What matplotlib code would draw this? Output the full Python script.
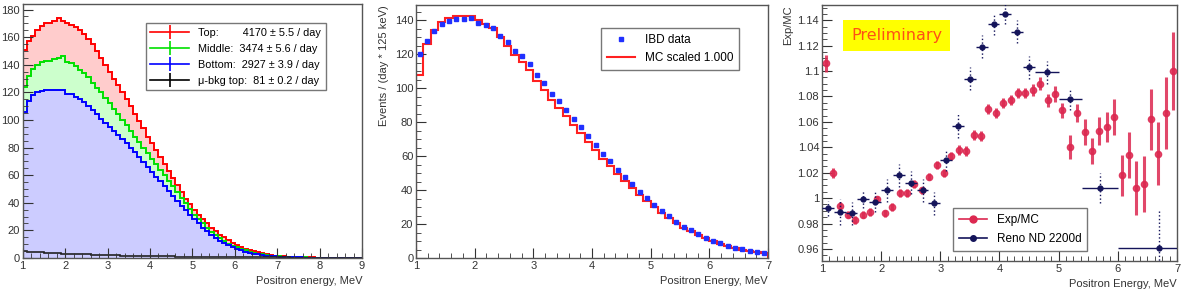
import numpy as np
from matplotlib import pyplot as plt
from matplotlib.lines import Line2D
from matplotlib.ticker import MultipleLocator, FormatStrFormatter

plt.rcParams['font.family'] = ['Liberation Sans', 'DejaVu Sans']

# ---- panel 1: positron spectra by detector position (0.1 MeV bins, 1-9 MeV)
edges1 = np.linspace(1.0, 9.0, 81)
top = [151, 157, 161, 165, 168, 170, 170, 172, 174, 172,
       170, 169, 167, 165, 162, 159, 155, 150, 145, 140,
       135, 130, 125, 120, 115, 110, 104, 99, 94, 88,
       83, 78, 73, 68, 63, 58, 53, 48, 43, 39,
       35, 31, 28, 25, 22, 19.5, 17, 15, 13, 11,
       9.5, 8, 6.8, 5.7, 4.8, 4.0, 3.3, 2.7, 2.2, 1.8,
       1.5, 1.2, 1.0, 0.8, 0.7, 0.6, 0.5, 0.45, 0.4, 0.35,
       0.3, 0.3, 0.25, 0.25, 0.2, 0.2, 0.2, 0.15, 0.15, 0.15]
middle = [124, 132, 137, 140, 142, 143, 143, 144, 145, 146,
          142, 141, 139, 136, 134, 131, 127, 123, 120, 116,
          112, 108, 104, 100, 96, 92, 88, 84, 80, 76,
          72, 68, 64, 60, 56, 52, 48, 43.5, 39.5, 35.5,
          31.5, 28, 25, 22, 19, 16.5, 14.3, 12.3, 10.5, 9,
          7.7, 6.5, 5.5, 4.6, 3.8, 3.2, 2.6, 2.1, 1.7, 1.4,
          1.1, 0.9, 0.75, 0.6, 0.5, 0.45, 0.4, 0.35, 0.3, 0.3,
          0.25, 0.2, 0.2, 0.2, 0.2, 0.15, 0.15, 0.15, 0.1, 0.1]
bottom = [106, 114, 118, 120, 121, 122, 122, 122, 122, 122,
          119, 119, 117, 115, 113, 110, 107, 104, 101, 98,
          95, 92, 89, 86, 83, 80, 76.5, 73, 69.5, 66,
          62.5, 59, 55.5, 52, 48.5, 45, 41.5, 38, 34.5, 31,
          28, 25, 22, 19.5, 17, 14.5, 12.5, 10.7, 9.1, 7.7,
          6.5, 5.5, 4.6, 3.8, 3.2, 2.7, 2.2, 1.8, 1.5, 1.2,
          1.0, 0.8, 0.65, 0.55, 0.45, 0.4, 0.35, 0.3, 0.3, 0.25,
          0.2, 0.2, 0.15, 0.15, 0.15, 0.1, 0.1, 0.1, 0.1, 0.1]
mubkg = [4.8, 4.6, 4.4, 4.2, 4.0, 3.85, 3.7, 3.55, 3.4, 3.25,
         3.1, 3.0, 2.9, 2.8, 2.7, 2.6, 2.5, 2.4, 2.3, 2.2,
         2.1, 2.0, 1.9, 1.8, 1.75, 1.7, 1.6, 1.5, 1.45, 1.4,
         1.35, 1.3, 1.25, 1.2, 1.15, 1.1, 1.05, 1.0, 0.95, 0.9,
         0.85, 0.8, 0.78, 0.75, 0.72, 0.7, 0.68, 0.65, 0.62, 0.6,
         0.58, 0.56, 0.54, 0.52, 0.5, 0.48, 0.46, 0.44, 0.42, 0.4,
         0.39, 0.38, 0.37, 0.36, 0.35, 0.34, 0.33, 0.32, 0.31, 0.3,
         0.29, 0.28, 0.27, 0.26, 0.25, 0.24, 0.23, 0.22, 0.21, 0.2]
labels1 = ['Top:        4170 ± 5.5 / day',
           'Middle:  3474 ± 5.6 / day',
           'Bottom:  2927 ± 3.9 / day',
           'μ-bkg top:  81 ± 0.2 / day']

# ---- panel 2: IBD data vs MC (125 keV bins, 1-7 MeV)
edges2 = np.linspace(1.0, 7.0, 49)
ibd = [120, 128, 133.7, 137.6, 139.6, 141, 141, 141.5, 138.6, 137.2,
       135.3, 131, 127, 122, 118.7, 114.4, 107.7, 103.2, 96.7, 92.3,
       87.4, 82.1, 77, 71.7, 66.7, 61.4, 56.9, 52, 47.7, 43.5,
       38.8, 35.3, 31.3, 27.8, 24.8, 21.5, 18.5, 16.5, 14, 12,
       10.2, 8.7, 7.1, 6.1, 5.1, 4.3, 3.7, 3.1]
mc = [108, 126, 134, 139, 141.5, 142.5, 142.5, 142.3, 140, 138,
      135.5, 130, 125, 119.5, 115.5, 110.5, 104, 99, 93, 88.5,
      83.5, 78.5, 73.5, 68.5, 63.5, 58.5, 54, 49.5, 45.5, 41.5,
      37, 33.5, 30, 26.5, 23.5, 20.5, 17.8, 15.7, 13.5, 11.5,
      9.8, 8.3, 6.9, 5.8, 4.9, 4.1, 3.5, 3.0]

# ---- panel 3: Exp/MC ratio and RENO ND
ratio = [1.106, 1.020, 0.994, 0.987, 0.983, 0.987, 0.989, 0.999, 0.988, 0.993,
         1.004, 1.004, 1.011, 1.006, 1.017, 1.026, 1.020, 1.033, 1.038, 1.037,
         1.050, 1.049, 1.070, 1.067, 1.075, 1.077, 1.083, 1.083, 1.085, 1.090,
         1.077, 1.082, 1.069, 1.040, 1.067, 1.052, 1.037, 1.053, 1.056, 1.064,
         1.018, 1.034, 1.008, 1.011, 1.062, 1.035, 1.067, 1.100]
ratio_err = [0.007, 0.004, 0.003, 0.003, 0.003, 0.003, 0.003, 0.003, 0.003, 0.003,
             0.003, 0.003, 0.003, 0.003, 0.003, 0.003, 0.003, 0.003, 0.004, 0.004,
             0.004, 0.004, 0.004, 0.004, 0.004, 0.004, 0.004, 0.004, 0.005, 0.005,
             0.005, 0.006, 0.006, 0.0095, 0.007, 0.01, 0.01, 0.011, 0.012, 0.014,
             0.016, 0.018, 0.021, 0.022, 0.024, 0.025, 0.028, 0.031]
reno_x = [1.1, 1.3, 1.5, 1.7, 1.9, 2.1, 2.3, 2.5, 2.7, 2.9, 3.1,
          3.3, 3.5, 3.7, 3.9, 4.1, 4.3, 4.5, 4.8, 5.2, 5.7, 6.7]
reno_lo = [1.0, 1.2, 1.4, 1.6, 1.8, 2.0, 2.2, 2.4, 2.6, 2.8, 3.0,
           3.2, 3.4, 3.6, 3.8, 4.0, 4.2, 4.4, 4.6, 5.0, 5.4, 6.0]
reno_hi = [1.2, 1.4, 1.6, 1.8, 2.0, 2.2, 2.4, 2.6, 2.8, 3.0, 3.2,
           3.4, 3.6, 3.8, 4.0, 4.2, 4.4, 4.6, 5.0, 5.4, 6.0, 7.0]
reno_y = [0.992, 0.989, 0.988, 0.999, 0.997, 1.006, 1.018, 1.012, 1.006, 0.996, 1.030,
          1.057, 1.094, 1.119, 1.137, 1.145, 1.131, 1.103, 1.099, 1.078, 1.008, 0.961]
reno_err = [0.006, 0.01, 0.009, 0.007, 0.008, 0.009, 0.009, 0.009, 0.009, 0.009, 0.009,
            0.01, 0.009, 0.009, 0.009, 0.008, 0.009, 0.009, 0.009, 0.0085, 0.012, 0.03]


def root_style(ax):
    for s in ax.spines.values():
        s.set_color('#555555')
        s.set_linewidth(1.0)
    ax.tick_params(which='both', direction='in', top=False, right=False,
                   labelsize=8, colors='#333333', pad=2)
    ax.tick_params(which='major', length=7)
    ax.tick_params(which='minor', length=3.5)


fig = plt.figure(figsize=(11.89, 2.98), dpi=100)
ax1 = fig.add_axes([0.0191, 0.1342, 0.2854, 0.8523])
ax2 = fig.add_axes([0.3499, 0.1342, 0.2960, 0.849])
ax3 = fig.add_axes([0.6913, 0.1242, 0.2986, 0.859])

# panel 1
for vals, fc, lc in [(top, '#ffcccc', '#ff0000'),
                     (middle, '#ccffcc', '#00e000'),
                     (bottom, '#ccccff', '#0000ff')]:
    ax1.stairs(vals, edges1, fill=True, color=fc)
    ax1.stairs(vals, edges1, baseline=0, color=lc, lw=1.4)
ax1.stairs(mubkg, edges1, color='#222222', lw=1.2)
ax1.set_xlim(1, 9)
ax1.set_ylim(0, 184)
ax1.xaxis.set_major_locator(MultipleLocator(1))
ax1.xaxis.set_minor_locator(MultipleLocator(0.2))
ax1.yaxis.set_major_locator(MultipleLocator(20))
ax1.yaxis.set_minor_locator(MultipleLocator(5))
ax1.set_xlabel('Positron energy, MeV', loc='right', fontsize=8, color='#333333', labelpad=4)
root_style(ax1)
h1 = [Line2D([], [], color=c, lw=1.2, marker='|', markersize=10, markeredgewidth=1.2)
      for c in ['#ff0000', '#00e000', '#0000ff', '#000000']]
leg1 = ax1.legend(h1, labels1, loc='upper left', bbox_to_anchor=(0.362, 0.926),
                  fontsize=7.8, frameon=True, fancybox=False, edgecolor='#555555',
                  handlelength=3.6, borderpad=0.45, labelspacing=0.55, borderaxespad=0)
leg1.get_frame().set_linewidth(1.0)

# panel 2
ax2.stairs(mc, edges2, baseline=0, color='#ff2020', lw=1.5, label='MC scaled 1.000')
centers2 = (edges2[:-1] + edges2[1:]) / 2
ax2.plot(centers2, ibd, 's', color='#2030ff', markersize=2.8, label='IBD data', zorder=3)
ax2.set_xlim(1, 7)
ax2.set_ylim(0, 149)
ax2.xaxis.set_major_locator(MultipleLocator(1))
ax2.xaxis.set_minor_locator(MultipleLocator(0.2))
ax2.yaxis.set_major_locator(MultipleLocator(20))
ax2.yaxis.set_minor_locator(MultipleLocator(5))
ax2.set_xlabel('Positron Energy, MeV', loc='right', fontsize=8, color='#333333', labelpad=4)
ax2.set_ylabel('Events / (day * 125 keV)', loc='top', fontsize=8, color='#333333', labelpad=4)
root_style(ax2)
hh, ll = ax2.get_legend_handles_labels()
h2 = [hh[1], Line2D([], [], color='#ff2020', lw=1.5)]
leg2 = ax2.legend(h2, ['IBD data', 'MC scaled 1.000'], loc='upper left',
                  bbox_to_anchor=(0.526, 0.909), fontsize=8.5, frameon=True, fancybox=False,
                  edgecolor='#555555', handlelength=2.4, borderpad=0.5, labelspacing=0.5,
                  borderaxespad=0)
leg2.get_frame().set_linewidth(1.0)

# panel 3
centers3 = (edges2[:-1] + edges2[1:]) / 2
e1 = ax3.errorbar(centers3, ratio, yerr=ratio_err, fmt='o', color='#dc2850', alpha=0.85,
                  markersize=4.5, elinewidth=2.2, capsize=0, zorder=3)
rx = np.array(reno_x)
xerr = [rx - np.array(reno_lo), np.array(reno_hi) - rx]
e2 = ax3.errorbar(reno_x, reno_y, xerr=xerr, yerr=reno_err, fmt='o', color='#14145a',
                  markersize=3.5, elinewidth=1.0, capsize=0, zorder=4)
e2[2][1].set_linestyle(':')
ax3.set_xlim(1, 7)
ax3.set_ylim(0.9505, 1.152)
ax3.xaxis.set_major_locator(MultipleLocator(1))
ax3.xaxis.set_minor_locator(MultipleLocator(0.125))
ax3.yaxis.set_major_locator(MultipleLocator(0.02))
ax3.yaxis.set_minor_locator(MultipleLocator(0.005))
ax3.yaxis.set_major_formatter(FormatStrFormatter('%g'))
ax3.set_xlabel('Positron Energy, MeV', loc='right', fontsize=8, color='#333333', labelpad=4)
ax3.set_ylabel('Exp/MC', loc='top', fontsize=8, color='#333333', labelpad=3)
root_style(ax3)
ax3.text(0.211, 0.881, 'Preliminary', transform=ax3.transAxes, fontsize=11.5,
         color='#ff5014', ha='center', va='center', family='DejaVu Sans',
         bbox=dict(boxstyle='square,pad=0.5', facecolor='#ffff00', edgecolor='none'))
h3 = [Line2D([], [], color='#dc2850', lw=1.2, marker='o', markersize=5),
      Line2D([], [], color='#14145a', lw=1.2, marker='o', markersize=4)]
leg3 = ax3.legend(h3, ['Exp/MC', 'Reno ND 2200d'], loc='lower left',
                  bbox_to_anchor=(0.369, 0.04), fontsize=8.5, frameon=True, fancybox=False,
                  edgecolor='#555555', handlelength=2.4, borderpad=0.5, labelspacing=0.6,
                  borderaxespad=0)
leg3.get_frame().set_linewidth(1.0)

plt.savefig('out.png', dpi=100)
